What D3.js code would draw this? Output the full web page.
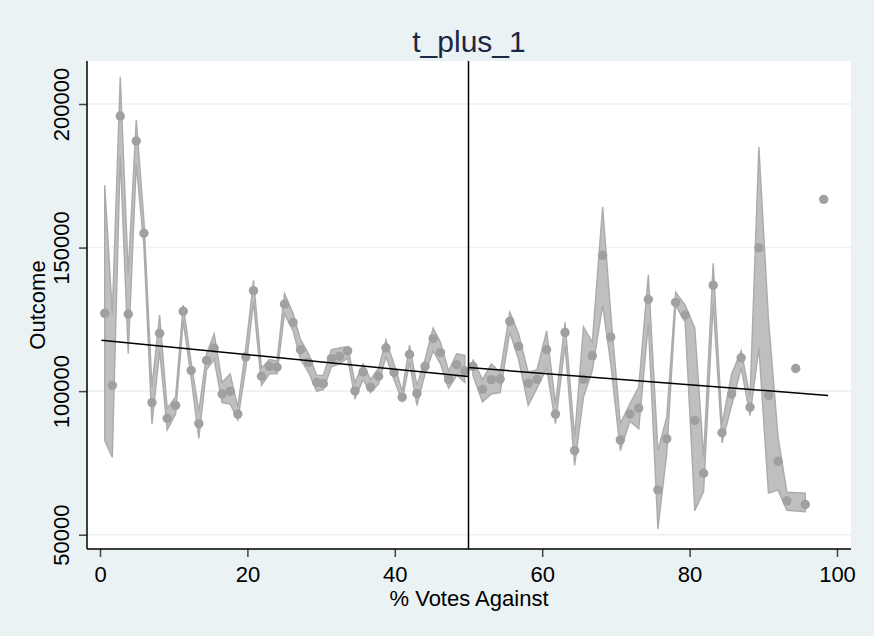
<!DOCTYPE html>
<html lang="en">
<head>
    <meta charset="UTF-8">
    <title>t_plus_1</title>
    <script src="https://d3js.org/d3.v7.min.js"></script>
    <style>
        body { margin: 0; background: #eaf2f3; }
        svg { display: block; font-family: "Liberation Sans", Arial, sans-serif; }
    </style>
</head>
<body>
<div id="chart"></div>
<script>
    // bin centres (% votes against), bin means and CI bounds
    const leftX  = [0.64, 1.67, 2.75, 3.83, 4.92, 5.96, 7.05, 8.09, 9.12, 10.26, 11.29, 12.37, 13.41, 14.46, 15.49, 16.57, 17.66, 18.7, 19.78, 20.83, 21.91, 22.99, 24.02, 25.03, 26.2, 27.2, 28.3, 29.4, 30.3, 31.4, 32.5, 33.6, 34.6, 35.7, 36.7, 37.8, 38.8, 39.9, 41.0, 42.0, 43.0, 44.1, 45.2, 46.2, 47.3, 48.4, 49.5];
    const leftY  = [127100, 102000, 195800, 126800, 187100, 155000, 96000, 120100, 90500, 95000, 127800, 107200, 88700, 110700, 115000, 99000, 99900, 92000, 111900, 135000, 105200, 108600, 108300, 130300, 123900, 114400, 110000, 103000, 102600, 111300, 112100, 114000, 100100, 106700, 101400, 105200, 115000, 106500, 97900, 112800, 99200, 108600, 118300, 113400, 104000, 109200, 107000];
    const leftLo = [82800, 77000, 182000, 113000, 179000, 150500, 88500, 114000, 86500, 92000, 124500, 104500, 83500, 107500, 111000, 96000, 95500, 90000, 108000, 131000, 102000, 106000, 106000, 127000, 121000, 111000, 106500, 100000, 100500, 108500, 109500, 111500, 97500, 104000, 99500, 102500, 112000, 104000, 96500, 110000, 95000, 106000, 114000, 109500, 101000, 105500, 103000];
    const leftHi = [171700, 127000, 209500, 141000, 194500, 159500, 101500, 126500, 94000, 98000, 130000, 110000, 93000, 113000, 120000, 103000, 106000, 94500, 115000, 138600, 108000, 111000, 110500, 134000, 127000, 118000, 113000, 105500, 105500, 114500, 115000, 115500, 103000, 109500, 104000, 108000, 117800, 109500, 100000, 116000, 102000, 111000, 122000, 117000, 107000, 113000, 112500];

    const rightX  = [50.6, 51.9, 53.1, 54.3, 55.6, 56.8, 58.1, 59.3, 60.6, 61.8, 63.1, 64.4, 65.6, 66.8, 68.2, 69.3, 70.6, 71.9, 73.1, 74.4, 75.7, 76.9, 78.1, 79.4, 80.7, 81.9, 83.2, 84.4, 85.7, 87.0, 88.2, 89.4, 90.7, 92.0, 93.2, 94.4, 95.7, 98.2];
    const rightY  = [108600, 100600, 104000, 104200, 124300, 115600, 102800, 104100, 114400, 92000, 120400, 79300, 104100, 112300, 147300, 118800, 83000, 92000, 94100, 131900, 65600, 83400, 130900, 126500, 89800, 71400, 136900, 85500, 98900, 111600, 94400, 149900, 98500, 75600, 61800, 107900, 60500, 166800];
    const rightLo = [105500, 96200, 99000, 99500, 120500, 111000, 95000, 101000, 108000, 88700, 116000, 74100, 97900, 107200, 129900, 109600, 79300, 89500, 86900, 123500, 52000, 78300, 129900, 124000, 58400, 65000, 130500, 82000, 95000, 108000, 91500, 115000, 64500, 65500, 58500, null, 58000, null];
    const rightHi = [111000, 104000, 109500, 106500, 127500, 120000, 106500, 107500, 121000, 95500, 124000, 84000, 122300, 117100, 164200, 127000, 88600, 95600, 101400, 140500, 79300, 91000, 134500, 130000, 122000, 77000, 144500, 88500, 106000, 114000, 98000, 185000, 125000, 84000, 64800, null, 64500, null];

    // linear fits on each side of the cutoff
    const fitLeftX = [0.2, 50], fitLeftY = [117700, 105100];
    const fitRightX = [50, 98.8], fitRightY = [108200, 98500];
    const cutoff = 50;

    const xTicks = [0, 20, 40, 60, 80, 100];
    const yTicks = [50000, 100000, 150000, 200000];

    const width = 874, height = 636;
    const plot = {left: 87, right: 851, top: 61, bottom: 549};

    const svg = d3.select("#chart").append("svg")
        .attr("width", width)
        .attr("height", height);

    svg.append("rect").attr("width", width).attr("height", height).attr("fill", "#eaf2f3");
    svg.append("rect")
        .attr("x", plot.left).attr("y", plot.top)
        .attr("width", plot.right - plot.left).attr("height", plot.bottom - plot.top)
        .attr("fill", "#fff");

    const x = d3.scaleLinear().domain([0, 100]).range([100, 837]);
    const y = d3.scaleLinear().domain([50000, 200000]).range([534.7, 104]);

    // gridlines
    svg.selectAll("line.grid")
        .data(yTicks)
        .enter().append("line")
        .attr("class", "grid")
        .attr("x1", plot.left).attr("x2", plot.right)
        .attr("y1", d => y(d)).attr("y2", d => y(d))
        .attr("stroke", "#eaf2f3")
        .attr("stroke-width", 1.5);

    const zip = (xs, ys, lo, hi) => xs.map((v, i) => ({x: v, y: ys[i], lo: lo[i], hi: hi[i]}));
    const leftData = zip(leftX, leftY, leftLo, leftHi);
    const rightData = zip(rightX, rightY, rightLo, rightHi);

    const band = d3.area()
        .x(d => x(d.x))
        .y0(d => y(d.lo))
        .y1(d => y(d.hi));

    [leftData, rightData].forEach(data => {
        svg.append("path")
            .datum(data.filter(d => d.lo != null))
            .attr("d", band)
            .attr("fill", "#bfbfbf")
            .attr("stroke", "#ababab")
            .attr("stroke-width", 1.4)
            .attr("stroke-linejoin", "miter");
    });

    svg.selectAll("circle")
        .data(leftData.concat(rightData))
        .enter().append("circle")
        .attr("cx", d => x(d.x))
        .attr("cy", d => y(d.y))
        .attr("r", 4.7)
        .attr("fill", "#a0a0a0");

    // fit lines
    const line = d3.line().x(d => x(d[0])).y(d => y(d[1]));
    [[fitLeftX, fitLeftY], [fitRightX, fitRightY]].forEach(([xs, ys]) => {
        svg.append("path")
            .datum(xs.map((v, i) => [v, ys[i]]))
            .attr("d", line)
            .attr("fill", "none")
            .attr("stroke", "#000")
            .attr("stroke-width", 1.5);
    });

    // cutoff
    svg.append("line")
        .attr("x1", x(cutoff)).attr("x2", x(cutoff))
        .attr("y1", plot.top).attr("y2", plot.bottom)
        .attr("stroke", "#000")
        .attr("stroke-width", 1.5);

    // axes
    const xAxis = svg.append("g")
        .attr("transform", `translate(0,${plot.bottom})`)
        .call(d3.axisBottom(x).tickValues(xTicks).tickSize(8).tickPadding(9).tickFormat(d3.format("d")));
    xAxis.select(".domain").remove();
    xAxis.selectAll("line").attr("stroke", "#444").attr("stroke-width", 1.5);
    xAxis.selectAll("text").attr("font-size", 22).attr("fill", "#000")
        .attr("font-family", "Liberation Sans, Arial, sans-serif");

    const yAxis = svg.append("g")
        .attr("transform", `translate(${plot.left},0)`)
        .call(d3.axisLeft(y).tickValues(yTicks).tickSize(8).tickFormat(d3.format("d")));
    yAxis.select(".domain").remove();
    yAxis.selectAll("line").attr("stroke", "#444").attr("stroke-width", 1.5);
    yAxis.selectAll("text")
        .attr("transform", "rotate(-90)")
        .attr("x", 0).attr("y", -18).attr("dy", 0)
        .attr("text-anchor", "middle")
        .attr("font-size", 22).attr("fill", "#000")
        .attr("font-family", "Liberation Sans, Arial, sans-serif");

    svg.append("line")
        .attr("x1", plot.left).attr("x2", plot.left)
        .attr("y1", plot.top).attr("y2", plot.bottom)
        .attr("stroke", "#000").attr("stroke-width", 1.5);
    svg.append("line")
        .attr("x1", plot.left).attr("x2", plot.right)
        .attr("y1", plot.bottom).attr("y2", plot.bottom)
        .attr("stroke", "#000").attr("stroke-width", 1.5);

    // titles
    svg.append("text")
        .attr("x", (plot.left + plot.right) / 2).attr("y", 52)
        .attr("text-anchor", "middle")
        .attr("font-size", 30).attr("fill", "#1a2745")
        .text("t_plus_1");
    svg.append("text")
        .attr("x", (plot.left + plot.right) / 2).attr("y", 606)
        .attr("text-anchor", "middle")
        .attr("font-size", 22).attr("fill", "#000")
        .text("% Votes Against");
    svg.append("text")
        .attr("transform", `translate(45,${(plot.top + plot.bottom) / 2}) rotate(-90)`)
        .attr("text-anchor", "middle")
        .attr("font-size", 22).attr("fill", "#000")
        .text("Outcome");
</script>
</body>
</html>
